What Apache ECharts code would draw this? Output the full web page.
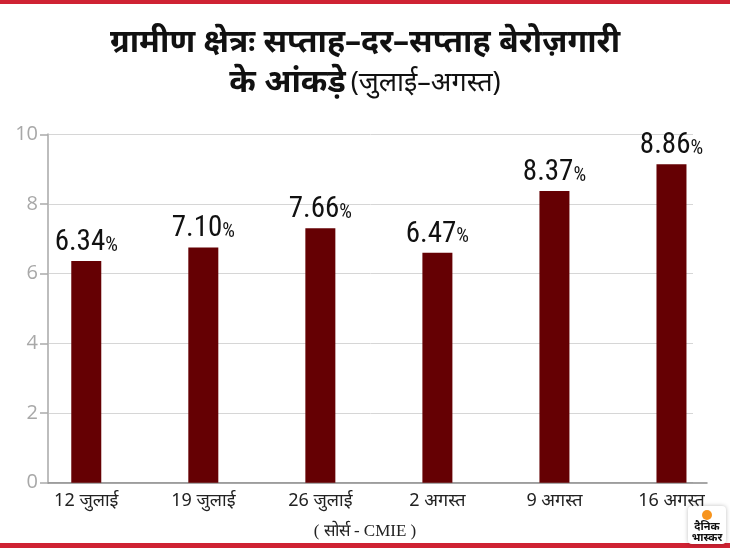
<!DOCTYPE html>
<html>
<head>
<meta charset="utf-8">
<script src="https://cdn.jsdelivr.net/npm/echarts@6/dist/echarts.min.js"></script>
<style>
  html, body {margin: 0; padding: 0; background: #fff;}
  #mychart {width: 730px; height: 548px;}
</style>
</head>
<body>
<div id="mychart"></div>
<script>
var weeks = ['12 जुलाई', '19 जुलाई', '26 जुलाई', '2 अगस्त', '9 अगस्त', '16 अगस्त'];
// bar heights as drawn in the picture
var barValues = [6.36, 6.75, 7.30, 6.60, 8.37, 9.14];
// printed labels on top of the bars
var barLabels = ['6.34', '7.10', '7.66', '6.47', '8.37', '8.86'];
var yTicks = [0, 2, 4, 6, 8, 10];

var dom = document.getElementById('mychart');
var mychart = echarts.init(dom);
var option = null;

var hindiFont = "'Noto Sans', 'DejaVu Sans', sans-serif";
var numFont = "'Liberation Sans Narrow', 'Roboto Condensed', 'Liberation Sans', sans-serif";

option = {
    backgroundColor: '#fff',
    animation: false,
    title: {
        text: '{b|ग्रामीण क्षेत्रः सप्ताह–दर–सप्ताह बेरोज़गारी}\n{b|के आंकड़े} {n|(जुलाई–अगस्त)}',
        left: 'center',
        top: 18,
        textStyle: {
            rich: {
                b: {fontSize: 32, fontWeight: 'bold', color: '#111', fontFamily: hindiFont, lineHeight: 40},
                n: {fontSize: 27, fontWeight: 'normal', color: '#111', fontFamily: hindiFont, lineHeight: 40}
            }
        }
    },
    grid: [
        // bars
        {left: 27.75, width: 711, top: 134.3, bottom: 65.3},
        // y axis + split lines
        {left: 48, right: 37, top: 134.3, bottom: 65.3},
        // x axis line
        {left: 48, right: 23, top: 134.3, bottom: 65.3}
    ],
    xAxis: [{
        gridIndex: 0,
        type: 'category',
        data: weeks,
        axisLine: {show: false},
        axisTick: {show: false},
        axisLabel: {fontSize: 18, color: '#222', fontFamily: hindiFont, margin: 9}
    }, {
        gridIndex: 1,
        type: 'value',
        show: false
    }, {
        gridIndex: 2,
        type: 'value',
        axisLine: {show: true, lineStyle: {color: '#8a8a8a', width: 1.5}},
        axisTick: {show: false},
        axisLabel: {show: false},
        splitLine: {show: false}
    }],
    yAxis: [{
        gridIndex: 0,
        type: 'value',
        min: yTicks[0],
        max: yTicks[yTicks.length - 1],
        interval: 2,
        show: false
    }, {
        gridIndex: 1,
        type: 'value',
        min: yTicks[0],
        max: yTicks[yTicks.length - 1],
        interval: 2,
        axisLine: {show: true, lineStyle: {color: '#bdbdbd', width: 2}},
        axisTick: {show: true, length: 8, lineStyle: {color: '#aaa', width: 1.5}},
        axisLabel: {fontSize: 20, color: '#a8a8a8', fontFamily: "'Open Sans', sans-serif", margin: 10},
        splitLine: {show: true, lineStyle: {color: '#d6d6d6', width: 1}}
    }, {
        gridIndex: 2,
        type: 'value',
        min: 0,
        max: 10,
        show: false
    }],
    series: [{
        type: 'bar',
        xAxisIndex: 0,
        yAxisIndex: 0,
        data: barValues,
        barWidth: 30,
        itemStyle: {color: '#650003'},
        label: {
            show: true,
            position: 'top',
            distance: 4,
            formatter: function (p) {
                return '{v|' + barLabels[p.dataIndex] + '}{p|%}';
            },
            rich: {
                v: {fontSize: 29, color: '#111', fontFamily: numFont},
                p: {fontSize: 20, color: '#111', fontFamily: numFont, padding: [6, 0, 0, 0]}
            }
        },
        z: 5
    }],
    graphic: [
        {type: 'rect', left: 0, top: 0, shape: {width: 730, height: 4}, style: {fill: '#cf2233'}},
        {type: 'rect', left: 0, top: 543, shape: {width: 730, height: 5}, style: {fill: '#cf2233'}},
        {
            type: 'text', left: 'center', top: 523,
            style: {text: '( सोर्स - CMIE )', fontSize: 17, fill: '#222', fontFamily: "'Liberation Serif', serif"}
        },
        {
            type: 'group', left: 688, top: 506,
            children: [
                {type: 'rect', shape: {x: 0, y: 0, width: 38, height: 38, r: 4},
                 style: {fill: '#fff', shadowBlur: 4, shadowColor: 'rgba(0,0,0,0.25)'}},
                {type: 'circle', shape: {cx: 19, cy: 9, r: 5}, style: {fill: '#f7941d'}},
                {type: 'text', style: {text: 'दैनिक', x: 19, y: 15, align: 'center', fontSize: 11, fontWeight: 'bold', fill: '#111', fontFamily: hindiFont}},
                {type: 'text', style: {text: 'भास्कर', x: 19, y: 26, align: 'center', fontSize: 11, fontWeight: 'bold', fill: '#111', fontFamily: hindiFont}}
            ]
        }
    ]
};

mychart.setOption(option, true);
</script>
</body>
</html>
